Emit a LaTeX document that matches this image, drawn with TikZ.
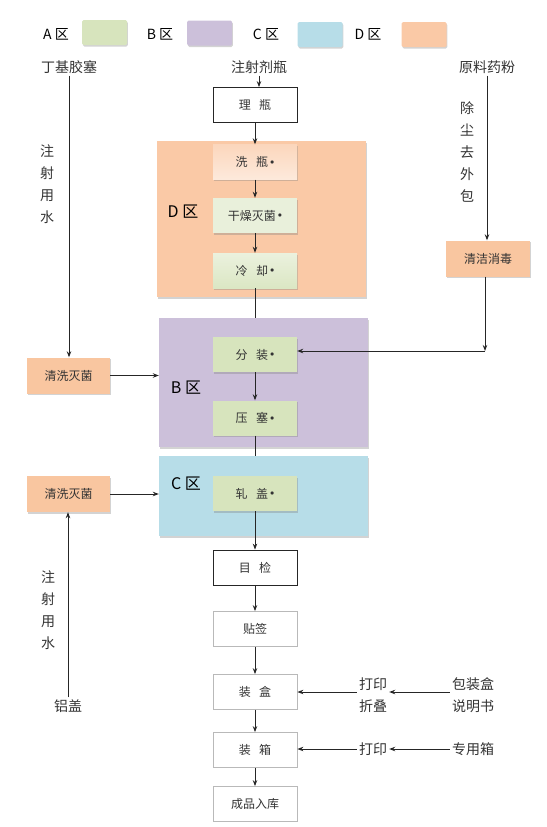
\documentclass[tikz,border=0pt]{standalone}
\usepackage{fontspec}
\setmainfont{Noto Sans CJK SC}
\usepackage{tikz}
\usetikzlibrary{
    arrows.meta,
    positioning,
    shadows
}
\usepackage{xcolor}
\definecolor{zonegreen}{HTML}{D7E4BD}
\definecolor{zonepurple}{HTML}{CCC0DA}
\definecolor{zoneblue}{HTML}{B7DDE8}
\definecolor{zoneorange}{HTML}{FAC9A6}
\definecolor{boxorange}{HTML}{F9C6A0}
\definecolor{inktext}{HTML}{333333}
\newcommand{\zgap}{\hspace{0.7em}}
\newcommand{\zmark}{\,\raisebox{2.5pt}{$\scriptstyle\bullet$}}
\tikzstyle{zone} = [
    rectangle,
    draw=none,
    minimum width=209pt,
    drop shadow={shadow xshift=1.2pt, shadow yshift=-1.5pt, opacity=0.35}
]
\tikzstyle{stage} = [
    rectangle,
    fill=zonegreen,
    minimum width=84pt,
    minimum height=35pt,
    text=inktext,
    font=\fontsize{12}{14}\selectfont,
    drop shadow={shadow xshift=0.8pt, shadow yshift=-1.5pt, opacity=0.35}
]
\tikzstyle{plain} = [
    rectangle,
    draw=black!85,
    line width=0.8pt,
    fill=white,
    minimum width=84pt,
    minimum height=35pt,
    text=inktext,
    font=\fontsize{12}{14}\selectfont
]
\tikzstyle{plaingray} = [
    plain,
    draw=gray!55
]
\tikzstyle{prep} = [
    rectangle,
    fill=boxorange,
    minimum width=83pt,
    minimum height=36pt,
    text=inktext,
    font=\fontsize{12}{14}\selectfont,
    drop shadow={shadow xshift=0.8pt, shadow yshift=-1.5pt, opacity=0.35}
]
\tikzstyle{swatch} = [
    rectangle,
    rounded corners=1.5pt,
    minimum width=45pt,
    minimum height=25pt,
    drop shadow={shadow xshift=0.8pt, shadow yshift=-1.5pt, opacity=0.35}
]
\tikzstyle{material} = [
    align=center,
    inner sep=2pt,
    text=inktext,
    font=\fontsize{14}{22}\selectfont
]
\tikzstyle{zonename} = [
    text=black,
    font=\fontsize{16}{18}\selectfont
]
\tikzstyle{arrow} = [
    -{Stealth[length=6pt, width=4.5pt]},
    line width=0.9pt,
    draw=black!85
]
\tikzstyle{link} = [
    line width=0.9pt,
    draw=black!85
]

\begin{document}
\begin{tikzpicture}[x=1pt, y=-1pt]
        \useasboundingbox (0,0) rectangle (546,827);

        % Legend
        \node[zonename, font=\fontsize{14}{16}\selectfont] (legA) at (56,34) {A 区};
        \node[swatch, fill=zonegreen] (swA) at (104.5,32.5) {};
        \node[zonename, font=\fontsize{14}{16}\selectfont] (legB) at (160,34) {B 区};
        \node[swatch, fill=zonepurple] (swB) at (209.5,33) {};
        \node[zonename, font=\fontsize{14}{16}\selectfont] (legC) at (266,34) {C 区};
        \node[swatch, fill=zoneblue] (swC) at (320,34.5) {};
        \node[zonename, font=\fontsize{14}{16}\selectfont] (legD) at (368,34) {D 区};
        \node[swatch, fill=zoneorange] (swD) at (424,34.5) {};

        % Zones
        \node[zone, fill=zoneorange, minimum height=156pt] (zoneD) at (261.5,219) {};
        \node[zone, fill=zonepurple, minimum height=129pt] (zoneB) at (263.5,382.5) {};
        \node[zone, fill=zoneblue, minimum height=80pt] (zoneC) at (263.5,496) {};
        \node[zonename] (nameD) at (183,212) {D 区};
        \node[zonename] (nameB) at (186,388) {B 区};
        \node[zonename] (nameC) at (186,484) {C 区};

        % Materials
        \node[material] (stopper) at (69,67) {丁基胶塞};
        \node[material] (vial) at (259,67) {注射剂瓶};
        \node[material] (powder) at (487,67) {原料药粉};
        \node[material] (water1) at (47,184.5) {注\\射\\用\\水};
        \node[material] (dust) at (467,151.5) {除\\尘\\去\\外\\包};
        \node[material] (water2) at (48,610) {注\\射\\用\\水};
        \node[material] (cap) at (68,706) {铝盖};
        \node[material] (print1) at (373,695) {打印\\折叠};
        \node[material] (leaflet) at (473,695) {包装盒\\说明书};
        \node[material] (print2) at (373,749) {打印};
        \node[material] (carton) at (473,749) {专用箱};

        % Main line
        \node[plain] (sort) at (255,105) {理\zgap 瓶};
        \node[stage, top color=zoneorange!75, bottom color=zoneorange!40] (wash) at (255,162) {洗\zgap 瓶\zmark};
        \node[stage, fill=zonegreen!55] (dry) at (255,215.5) {干燥灭菌\zmark};
        \node[stage, top color=zonegreen!50, bottom color=zonegreen!90] (cool) at (255,270.5) {冷\zgap 却\zmark};
        \node[stage] (fill) at (255,354.5) {分\zgap 装\zmark};
        \node[stage] (press) at (255,418) {压\zgap 塞\zmark};
        \node[stage] (crimp) at (255,493.5) {轧\zgap 盖\zmark};
        \node[plain] (inspect) at (255,567.5) {目\zgap 检};
        \node[plaingray] (label) at (255,629) {贴签};
        \node[plaingray] (boxing) at (255,692) {装\zgap 盒};
        \node[plaingray] (casing) at (255,750) {装\zgap 箱};
        \node[plaingray] (store) at (255,804) {成品入库};

        % Side preparation
        \node[prep] (rinse1) at (68.5,375.5) {清洗灭菌};
        \node[prep] (rinse2) at (68.5,494) {清洗灭菌};
        \node[prep, minimum width=84pt] (clean) at (488,258.5) {清洁消毒};
        \coordinate (turn) at (485,351);

        % Arrows
        \draw[arrow] (vial.south) -- (vial.south |- sort.north);
        \draw[arrow] (sort) -- (wash);
        \draw[arrow] (wash) -- (dry);
        \draw[arrow] (dry) -- (cool);
        \draw[link] (cool) -- (cool |- zoneB.north);
        \draw[arrow] (fill) -- (press);
        \draw[link] (press) -- (press |- zoneC.north);
        \draw[arrow] (crimp) -- (inspect);
        \draw[arrow] (inspect) -- (label);
        \draw[arrow] (label) -- (boxing);
        \draw[arrow] (boxing) -- (casing);
        \draw[arrow] (casing) -- (store);

        \draw[arrow] (stopper.south) -- (stopper.south |- rinse1.north);
        \draw[arrow] (rinse1) -- (rinse1 -| zoneB.west);
        \draw[arrow] (rinse2) -- (rinse2 -| zoneC.west);
        \draw[arrow] (cap.north) -- (cap.north |- rinse2.south);

        \draw[arrow] (powder.south) -- (powder.south |- clean.north);
        \draw[arrow] (clean.south -| turn) -- (turn);
        \draw[arrow] (turn) -- (turn -| fill.east);

        \draw[arrow] (print1.west |- boxing) -- (boxing.east);
        \draw[arrow] (leaflet.west |- boxing) -- (print1.east |- boxing);
        \draw[arrow] (print2.west) -- (print2.west -| casing.east);
        \draw[arrow] (carton.west) -- (print2.east);
    \end{tikzpicture}
\end{document}
